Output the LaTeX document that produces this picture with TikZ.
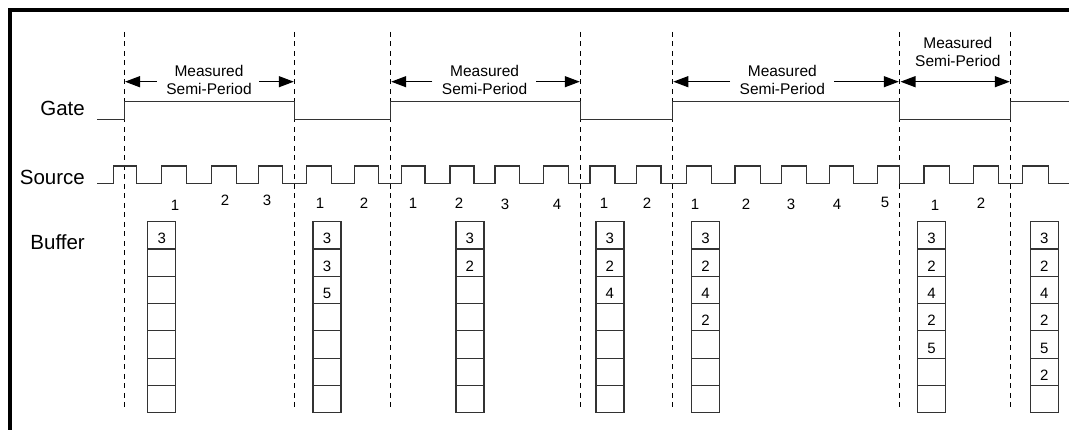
\documentclass[tikz,border=0pt]{standalone}
\usepackage{fontspec}
\setmainfont{Liberation Sans}
\usetikzlibrary{arrows.meta}
\begin{document}
\begin{tikzpicture}[x=1pt,y=-1pt,
  sig/.style={line width=1.3pt, draw=black!80, line join=miter},
  vdash/.style={line width=1.2pt, draw=black, dash pattern=on 5pt off 4.5pt},
  lbl/.style={font=\fontsize{20.5}{24}\selectfont, anchor=base east, inner sep=0pt},
  ann/.style={font=\fontsize{15.5}{17.6}\selectfont, align=center, inner sep=0pt},
  num/.style={font=\fontsize{15}{18}\selectfont, inner sep=0pt},
  cell/.style={draw=black!80, line width=1.2pt, minimum width=28pt, minimum height=27.3pt, inner sep=0pt},
  meas/.style={line width=1.2pt, draw=black, -{Triangle[length=15pt,width=11pt]}},
  meas2/.style={line width=1.2pt, draw=black, {Triangle[length=15pt,width=11pt]}-{Triangle[length=15pt,width=11pt]}},
]
\useasboundingbox (0,0) rectangle (1069,430);
% frame
\draw[line width=4pt, line join=miter] (9.5,430) -- (9.5,10.3) -- (1069,10.3);

% labels
\node[lbl] (gate) at (85,116) {Gate};
\node[lbl] (source) at (85,184.3) {Source};
\node[lbl] (buffer) at (85,249.3) {Buffer};

% dashed vertical lines
\foreach \x [count=\k] in {124.5,294.5,390.5,580.5,672.5,899.5,1010.5} {
  \coordinate (dt\k) at (\x,32);
  \coordinate (db\k) at (\x,410);
  \draw[vdash] (dt\k) -- (db\k);
}

% gate signal
\draw[sig] (97,119.3) -- (124.5,119.3) -- (124.5,101.7) -- (294.5,101.7) -- (294.5,119.3)
  -- (390.5,119.3) -- (390.5,101.7) -- (580.5,101.7) -- (580.5,119.3)
  -- (672.5,119.3) -- (672.5,101.7) -- (899.5,101.7) -- (899.5,119.3)
  -- (1010.5,119.3) -- (1010.5,101.7) -- (1069,101.7);

% source signal
\draw[sig] (97.3,183.3)
  foreach \r/\f in {113.3/136.7,161.7/186.7,211.7/236.7,258.3/282.7,306.7/331.7,354.3/378.3,
    401.7/425,450/474,495/519.3,543.3/568.3,590/615,636.7/661,686.7/711.7,735/760.7,
    781.7/806.7,829.3/853.3,877.3/899.5,924/949.3,973.3/998.3,1022.7/1048.3}
  { -- (\r,183.3) -- (\r,166) -- (\f,166) -- (\f,183.3) } -- (1069,183.3);

% source counts
\foreach \x/\y/\t [count=\k] in {175/205/1,225/200/2,267/200/3,320/203/1,364/203/2,
   413/203/1,459/203/2,505/204/3,557/204/4,604/203/1,647/203/2,
   695/204/1,746/204/2,791/204/3,837/204/4,885/202/5,935/205/1,981/203/2}
  \node[num] (c\k) at (\x,\y) {\t};

% measured semi-period annotations
\node[ann] (m1) at (209,80) {Measured\\Semi-Period};
\coordinate (m1l) at (156.7,81.7); \coordinate (m1lt) at (125,81.7);
\coordinate (m1r) at (259.3,81.7); \coordinate (m1rt) at (293.8,81.7);
\draw[meas] (m1l) -- (m1lt);
\draw[meas] (m1r) -- (m1rt);

\node[ann] (m2) at (484.6,80) {Measured\\Semi-Period};
\coordinate (m2l) at (432.3,81.7); \coordinate (m2lt) at (391.2,81.7);
\coordinate (m2r) at (536,81.7); \coordinate (m2rt) at (579.8,81.7);
\draw[meas] (m2l) -- (m2lt);
\draw[meas] (m2r) -- (m2rt);

\node[ann] (m3) at (782.3,80) {Measured\\Semi-Period};
\coordinate (m3l) at (730,81.7); \coordinate (m3lt) at (673.3,81.7);
\coordinate (m3r) at (834,81.7); \coordinate (m3rt) at (898.8,81.7);
\draw[meas] (m3l) -- (m3lt);
\draw[meas] (m3r) -- (m3rt);

\node[ann] (m4) at (957.8,52) {Measured\\Semi-Period};
\coordinate (m4l) at (900.5,81.7); \coordinate (m4r) at (1009.8,81.7);
\draw[meas2] (m4l) -- (m4r);

% buffers
\foreach \bx/\vals [count=\i] in {161.7/{3}, 327/{3,3,5}, 469.9/{3,2}, 609.9/{3,2,4},
    705.5/{3,2,4,2}, 931.5/{3,2,4,2,5}, 1044.2/{3,2,4,2,5,2}} {
  \foreach \j in {1,...,7}
    \node[cell] (b\i-\j) at (\bx,{235.35+27.3*(\j-1)}) {};
  \foreach \v [count=\j] in \vals
    \node[num] (n\i-\j) at ([yshift=-3.4pt]b\i-\j.center) {\v};
}
\end{tikzpicture}
\end{document}
